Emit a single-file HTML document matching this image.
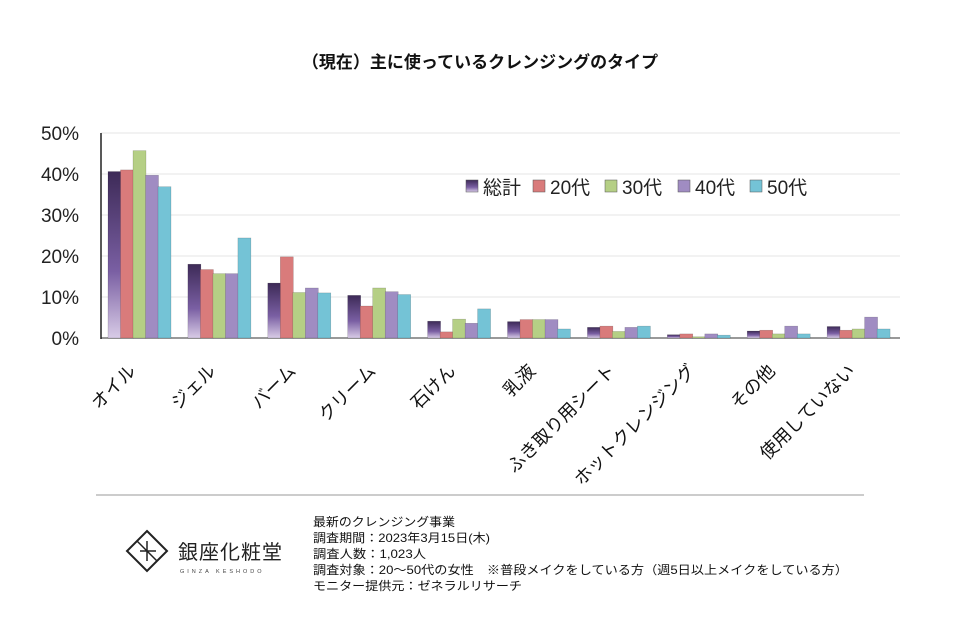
<!DOCTYPE html>
<html><head><meta charset="utf-8"><style>
body{margin:0;background:#fff;width:960px;height:619px;overflow:hidden;font-family:"Liberation Sans","Noto Sans CJK JP",sans-serif}
svg text{font-family:"Liberation Sans","Noto Sans CJK JP",sans-serif}
</style></head><body>
<svg id="chart" width="960" height="619" xmlns="http://www.w3.org/2000/svg">
<defs>
<linearGradient id="g0" x1="0" y1="0" x2="0" y2="1"><stop offset="0" stop-color="#3d2a57"/><stop offset="0.6" stop-color="#7a5fa3"/><stop offset="1" stop-color="#d8cbe6"/></linearGradient>
</defs>
<text x="480" y="68" text-anchor="middle" font-size="17" font-weight="bold" fill="#111">（現在）主に使っているクレンジングのタイプ</text>
<g id="grid"></g><g id="bars"></g><g id="labels"></g>
<g id="legend"></g>
<line x1="96" y1="495" x2="864" y2="495" stroke="#999" stroke-width="1"/>
<g>
<polygon points="147,531 167,551 147,571 127,551" fill="none" stroke="#222" stroke-width="2"/>
<path d="M137,541 L157,561 M147,541 L147,561 M140,551 L156,551" stroke="#222" stroke-width="1.5" fill="none"/>
<text x="178" y="559" font-size="20" fill="#222" letter-spacing="1">銀座化粧堂</text>
<text x="180" y="573" font-size="5.5" fill="#444" letter-spacing="3">GINZA KESHODO</text>
</g>
<g font-size="12" fill="#111">
<text x="313" y="526" textLength="142" lengthAdjust="spacingAndGlyphs">最新のクレンジング事業</text>
<text x="313" y="542" textLength="177" lengthAdjust="spacingAndGlyphs">調査期間：2023年3月15日(木)</text>
<text x="313" y="558" textLength="113" lengthAdjust="spacingAndGlyphs">調査人数：1,023人</text>
<text x="313" y="574" textLength="535" lengthAdjust="spacingAndGlyphs">調査対象：20～50代の女性　※普段メイクをしている方（週5日以上メイクをしている方）</text>
<text x="313" y="590" textLength="209" lengthAdjust="spacingAndGlyphs">モニター提供元：ゼネラルリサーチ</text>
</g>
</svg>
<script>
const categories=["オイル","ジェル","バーム","クリーム","石けん","乳液","ふき取り用シート","ホットクレンジング","その他","使用していない"];
const seriesNames=["総計","20代","30代","40代","50代"];
const total=[40.6,18.0,13.4,10.4,4.1,4.0,2.6,0.8,1.7,2.8];
const age20=[41.0,16.7,19.8,7.8,1.5,4.5,2.9,1.0,1.9,1.9];
const age30=[45.7,15.7,11.1,12.2,4.6,4.5,1.6,0.3,1.0,2.2];
const age40=[39.7,15.7,12.2,11.3,3.6,4.5,2.6,1.0,2.9,5.1];
const age50=[36.9,24.4,11.0,10.6,7.1,2.2,2.9,0.7,1.0,2.2];
const yTicks=[0,10,20,30,40,50];
const series=[total,age20,age30,age40,age50];
const colors=["url(#g0)","#d97b7b","#b5cf85","#a08cc2","#74c3d6"];
const NS="http://www.w3.org/2000/svg";
const x0=101,x1=900,y0=338,pxPer=4.1;
const y=v=>y0-v*pxPer;
const gw=(x1-x0)/categories.length;
const gx=i=>x0+gw*i;
function mk(t,a,p){const e=document.createElementNS(NS,t);for(const k in a)e.setAttribute(k,a[k]);p.appendChild(e);return e;}
const grid=document.getElementById('grid');
yTicks.forEach(t=>{
 const l=mk('line',{x1:x0,x2:x1,y1:y(t),y2:y(t),stroke:t===0?'#999':'#e6e6e6','stroke-width':t===0?2:1},grid);
 
 
 const tx=mk('text',{x:79,y:y(t)+7,'text-anchor':'end','font-size':19,fill:'#222'},grid);
 tx.textContent=t+'%';
 
 
});
mk('line',{x1:x0,x2:x0,y1:y(50),y2:y0+1,stroke:'#222','stroke-width':1.5},grid);
const bars=document.getElementById('bars');
const bw=12.5;
categories.forEach((c,i)=>{
 series.forEach((s,j)=>{
  const r=mk('rect',{x:gx(i)+7+j*bw,y:y(s[i]),width:bw+0.5,height:s[i]*pxPer,fill:colors[j],stroke:'rgba(0,0,0,0.25)','stroke-width':0.5},bars);
  
  
 });
 const cx=gx(i)+gw/2-4;
 const t=mk('text',{x:cx,y:372,'text-anchor':'end','font-size':18,fill:'#111',transform:`rotate(-45 ${cx} 372)`},document.getElementById('labels'));
 t.textContent=c;
 
 
});
const lg=document.getElementById('legend');
const lx=[466,533,605,678,750];
seriesNames.forEach((n,j)=>{
 const r=mk('rect',{x:lx[j],y:180,width:12,height:12,fill:colors[j],stroke:'#555','stroke-width':0.5},lg);
 
 
 const t=mk('text',{x:lx[j]+17,y:194,'font-size':19,fill:'#222'},lg);
 t.textContent=n;
 
 
});
</script>
</body></html>
